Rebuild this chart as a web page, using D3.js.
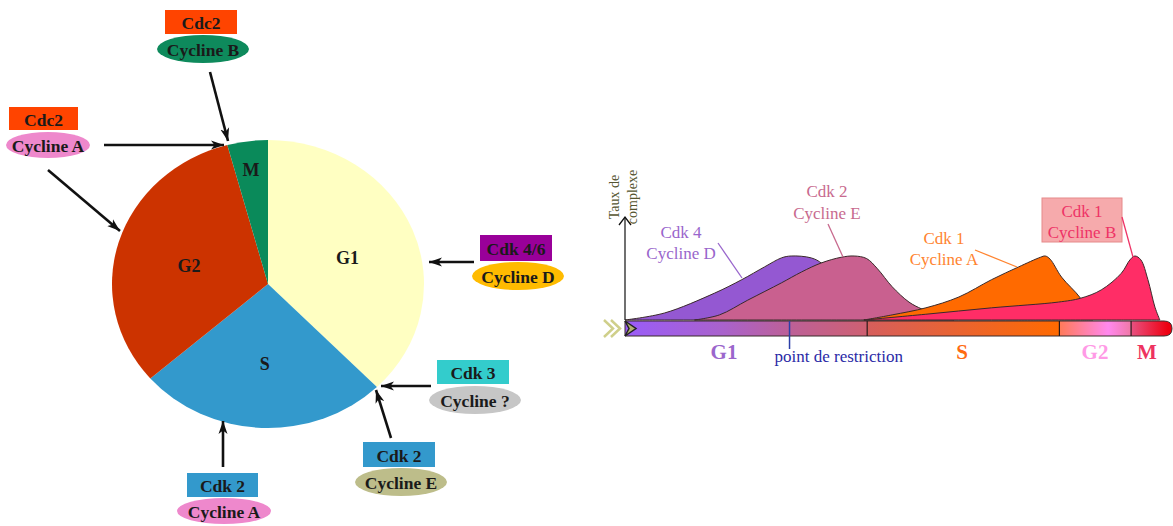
<!DOCTYPE html>
<html><head><meta charset="utf-8">
<script src="https://cdn.jsdelivr.net/npm/d3@7"></script>
<style>body{margin:0;background:#fff}svg{display:block}</style>
</head><body>
<svg id="c" width="1173" height="526"></svg>
<script>
// ---------- DATA ----------
const phases = ["G1", "S", "G2", "M"];
const phaseShare = [37.7, 25.9, 32.2, 4.2];

const cdkNames = ["Cdc2", "Cdc2", "Cdk 4/6", "Cdk 3", "Cdk 2", "Cdk 2"];
const cyclineNames = ["Cycline B", "Cycline A", "Cycline D", "Cycline ?", "Cycline E", "Cycline A"];

const curveCdk = ["Cdk 4", "Cdk 2", "Cdk 1", "Cdk 1"];
const curveCycline = ["Cycline D", "Cycline E", "Cycline A", "Cycline B"];
const progressD = [0, 7.3, 16.5, 21.5, 25.7, 28.8, 30.6, 34.3, 36.3, 39.4, 43.1, 45.9];
const levelD    = [0, 0.11, 0.42, 0.63, 0.83, 0.97, 1.0, 0.97, 0.88, 0.55, 0.19, 0];
const progressE = [12.8, 17.4, 22.6, 28.8, 32.5, 36.1, 39.8, 42.2, 44.5, 46.5, 49.2, 52.3, 54.7, 57.8, 60.6];
const levelE    = [0, 0.08, 0.31, 0.58, 0.75, 0.89, 0.98, 1.0, 0.96, 0.8, 0.52, 0.28, 0.17, 0.06, 0];
const progressA = [44, 49.2, 55.4, 61.5, 67.5, 72.5, 76.5, 77.4, 78.3, 80.4, 83.9, 86.2];
const levelA    = [0, 0.08, 0.19, 0.36, 0.63, 0.83, 0.98, 1.0, 0.95, 0.67, 0.34, 0];
const progressB = [44, 55.4, 67.5, 79.8, 83.9, 87.7, 91.4, 93, 93.9, 95, 96.3, 97.6, 98.5];
const levelB    = [0, 0.09, 0.19, 0.28, 0.34, 0.47, 0.73, 0.94, 1.0, 0.94, 0.63, 0.2, 0];

const barPhases = ["G1", "S", "G2", "M"];
const barBounds = [0, 44.6, 80, 93.2, 100];
const restrictionPoint = 30.3;
const restrictionLabel = "point de restriction";
const axisLabel = ["Taux de", "complexe"];

// ---------- STYLE / LAYOUT ----------
const svg = d3.select("#c");
const serif = "'Liberation Serif','Times New Roman',serif";
const pieColors = {G1: "#FFFFC2", S: "#3399CC", G2: "#CC3300", M: "#0A8A5A"};
const pieLabelK = {G1: 0.55, S: 0.53, G2: 0.53, M: 0.83};

const defs = svg.append("defs");
defs.append("marker").attr("id", "ah").attr("viewBox", "0 -5 13 10")
  .attr("refX", 13).attr("refY", 0).attr("markerWidth", 13).attr("markerHeight", 10)
  .attr("markerUnits", "userSpaceOnUse").attr("orient", "auto")
  .append("path").attr("d", "M0,-4.5L13,0L0,4.5L3.5,0Z").attr("fill", "#111");

// ---------- PIE ----------
const R = 150, cx = 268, cy = 284, rx = 156, ry = 144;
const pie = d3.pie().sort(null).value((d, i) => phaseShare[i]);
const arcs = pie(phases);
const arc = d3.arc().innerRadius(0).outerRadius(R);
const pg = svg.append("g").attr("transform", `translate(${cx},${cy})`);
const pScaled = pg.append("g").attr("transform", `scale(${rx / R},${ry / R})`);
pScaled.selectAll("path").data(arcs).join("path")
  .attr("d", arc).attr("fill", d => pieColors[d.data]);
arcs.forEach(a => {
  const k = pieLabelK[a.data];
  const la = d3.arc().innerRadius(R * k).outerRadius(R * k);
  const [lx, ly] = la.centroid(a);
  pg.append("text").attr("x", lx * rx / R).attr("y", ly * ry / R + 4)
    .attr("text-anchor", "middle").attr("dominant-baseline", "central")
    .attr("font-family", serif).attr("font-weight", "bold").attr("font-size", 18)
    .attr("fill", "#1a1a1a").text(a.data);
});

// ---------- COMPLEX LABELS ----------
const boxes = [
  {x: 165, y: 10, w: 72, h: 24, fill: "#FF4400", ex: 203, ey: 49, erx: 46, ery: 14, efill: "#0E8A5C",
   arrows: [[210, 72, 228, 141]]},
  {x: 9, y: 107, w: 69, h: 23, fill: "#FF4400", ex: 48, ey: 145, erx: 42, ery: 13, efill: "#EE88CC",
   arrows: [[104, 145, 224, 145], [48, 170, 120, 231]]},
  {x: 480, y: 235, w: 72, h: 26, fill: "#990099", ex: 518, ey: 276, erx: 46, ery: 14, efill: "#FFBB00",
   arrows: [[474, 262, 429, 262]]},
  {x: 437, y: 360, w: 72, h: 24, fill: "#33CCCC", ex: 475, ey: 400, erx: 46, ery: 14, efill: "#C6C6C6",
   arrows: [[431, 386, 381, 386]]},
  {x: 363, y: 442, w: 72, h: 25, fill: "#3399CC", ex: 401, ey: 482, erx: 46, ery: 14, efill: "#BDBD8A",
   arrows: [[391, 438, 376, 390]]},
  {x: 187, y: 473, w: 71, h: 24, fill: "#3399CC", ex: 224, ey: 511, erx: 47, ery: 13, efill: "#EE88CC",
   arrows: [[223, 467, 223, 421]]}
];
const cg = svg.append("g");
boxes.forEach((b, i) => {
  cg.append("rect").attr("x", b.x).attr("y", b.y).attr("width", b.w).attr("height", b.h).attr("fill", b.fill);
  cg.append("ellipse").attr("cx", b.ex).attr("cy", b.ey).attr("rx", b.erx).attr("ry", b.ery).attr("fill", b.efill);
  cg.append("text").attr("x", b.x + b.w / 2).attr("y", b.y + b.h / 2 + 1)
    .attr("text-anchor", "middle").attr("dominant-baseline", "central")
    .attr("font-family", serif).attr("font-weight", "bold").attr("font-size", 17.5)
    .attr("fill", "#1a1a1a").text(cdkNames[i]);
  cg.append("text").attr("x", b.ex).attr("y", b.ey + 1)
    .attr("text-anchor", "middle").attr("dominant-baseline", "central")
    .attr("font-family", serif).attr("font-weight", "bold").attr("font-size", 17.5)
    .attr("fill", "#1a1a1a").text(cyclineNames[i]);
  b.arrows.forEach(a => {
    cg.append("line").attr("x1", a[0]).attr("y1", a[1]).attr("x2", a[2]).attr("y2", a[3])
      .attr("stroke", "#111").attr("stroke-width", 2.6).attr("marker-end", "url(#ah)");
  });
});

// ---------- RIGHT CHART ----------
const x = d3.scaleLinear().domain([0, 100]).range([625, 1168]);
const y = d3.scaleLinear().domain([0, 1]).range([320, 256]);
const barTop = 321, barBot = 336;

const grad = defs.append("linearGradient").attr("id", "barg")
  .attr("gradientUnits", "userSpaceOnUse").attr("x1", x(0)).attr("x2", x(100)).attr("y1", 0).attr("y2", 0);
[[0, "#9A5CF8"], [18, "#A962CC"], [30, "#BC6098"], [44.5, "#CE6072"], [44.7, "#D65E5C"],
 [79.9, "#FF6A00"], [80.1, "#FF7A5A"], [89, "#FF88EE"], [93.1, "#F078A8"], [93.3, "#E85080"], [100, "#EE0010"]]
  .forEach(s => grad.append("stop").attr("offset", s[0] + "%").attr("stop-color", s[1]));

const area = d3.area().x(d => x(d[0])).y0(y(0)).y1(d => y(d[1])).curve(d3.curveCatmullRom.alpha(0.5));
const curves = [
  {p: progressD, l: levelD, fill: "#9458D2"},
  {p: progressE, l: levelE, fill: "#C9608F"},
  {p: progressA, l: levelA, fill: "#FF6A00"},
  {p: progressB, l: levelB, fill: "#FF2D66"}
];
const rg = svg.append("g");
rg.append("rect").attr("x", 1042).attr("y", 198).attr("width", 80).attr("height", 44)
  .attr("fill", "#F6AAAC").attr("stroke", "#E68A8A").attr("stroke-width", 1);
curves.forEach(c => {
  const pts = c.p.map((v, i) => [v, c.l[i]]);
  rg.append("path").attr("d", area(pts)).attr("fill", c.fill)
    .attr("stroke", "#3a2a2a").attr("stroke-width", 1);
});

// bar
const xe = x(100);
rg.append("path")
  .attr("d", `M${x(0)},${barTop}H${xe - 4}Q${xe + 4},${barTop} ${xe + 4},${(barTop + barBot) / 2}Q${xe + 4},${barBot} ${xe - 4},${barBot}H${x(0)}Z`)
  .attr("fill", "url(#barg)").attr("stroke", "#3a2a2a").attr("stroke-width", 1);
barBounds.slice(1, 4).forEach(b => {
  rg.append("line").attr("x1", x(b)).attr("x2", x(b)).attr("y1", barTop).attr("y2", barBot)
    .attr("stroke", "#2a1a1a").attr("stroke-width", 1.2);
});
rg.append("line").attr("x1", x(restrictionPoint)).attr("x2", x(restrictionPoint))
  .attr("y1", barTop).attr("y2", 349).attr("stroke", "#2c3fa8").attr("stroke-width", 1.5);
rg.append("text").attr("x", x(restrictionPoint) - 15).attr("y", 362)
  .attr("font-family", serif).attr("font-size", 17).attr("fill", "#2a2aa6").text(restrictionLabel);

// chevrons at start
[604, 611].forEach(c0 => {
  rg.append("path").attr("d", `M${c0},${barTop - 1}L${c0 + 9},${(barTop + barBot) / 2}L${c0},${barBot + 1}`)
    .attr("fill", "none").attr("stroke", "#CFCF8A").attr("stroke-width", 2.5);
});
rg.append("path").attr("d", `M${x(0)},${barTop}L${x(0) + 11},${(barTop + barBot) / 2}L${x(0)},${barBot}L${x(0) + 4},${(barTop + barBot) / 2}Z`)
  .attr("fill", "#B0B070").attr("stroke", "#222").attr("stroke-width", 1.5);

// axis
const ya = d3.scaleLinear().domain([0, 1.6]).range([320, 217]);
rg.append("line").attr("x1", x(0)).attr("x2", x(0)).attr("y1", ya(0)).attr("y2", ya(1.6))
  .attr("stroke", "#111").attr("stroke-width", 1.2);
rg.append("path").attr("d", `M${x(0) - 6},${ya(1.6) + 8}L${x(0)},${ya(1.6)}L${x(0) + 6},${ya(1.6) + 8}`)
  .attr("fill", "none").attr("stroke", "#111").attr("stroke-width", 1.3);
axisLabel.forEach((t, i) => {
  rg.append("text").attr("transform", `translate(${619 + i * 18},197) rotate(-90)`)
    .attr("text-anchor", "middle").attr("font-family", serif).attr("font-size", 14)
    .attr("fill", "#555530").text(t);
});

// phase labels under bar
const phaseLabelColors = ["#9B66CC", "#FF6A10", "#FF9AE6", "#EE3360"];
const phaseLabelX = [724, 962, 1095, 1147];
barPhases.forEach((p, i) => {
  rg.append("text").attr("x", phaseLabelX[i]).attr("y", 359).attr("text-anchor", "middle")
    .attr("font-family", serif).attr("font-weight", "bold").attr("font-size", 21)
    .attr("fill", phaseLabelColors[i]).text(p);
});

// curve labels
const labels = [
  {cx: 681, y1: 238, y2: 259, color: "#9966CC", lead: [718, 243, 742, 278]},
  {cx: 827, y1: 197, y2: 219, color: "#C86A8E", lead: [828, 224, 843, 257]},
  {cx: 944, y1: 244, y2: 265, color: "#FF8430", lead: [975, 250, 1017, 267]},
  {cx: 1082, y1: 217, y2: 238, color: "#EE3366", lead: [1122, 217, 1133, 257]}
];
labels.forEach((L, i) => {
  rg.append("line").attr("x1", L.lead[0]).attr("y1", L.lead[1]).attr("x2", L.lead[2]).attr("y2", L.lead[3])
    .attr("stroke", L.color).attr("stroke-width", 1.3);
  rg.append("text").attr("x", L.cx).attr("y", L.y1).attr("text-anchor", "middle")
    .attr("font-family", serif).attr("font-size", 17).attr("fill", L.color).text(curveCdk[i]);
  rg.append("text").attr("x", L.cx).attr("y", L.y2).attr("text-anchor", "middle")
    .attr("font-family", serif).attr("font-size", 17).attr("fill", L.color).text(curveCycline[i]);
});
</script>
</body></html>
